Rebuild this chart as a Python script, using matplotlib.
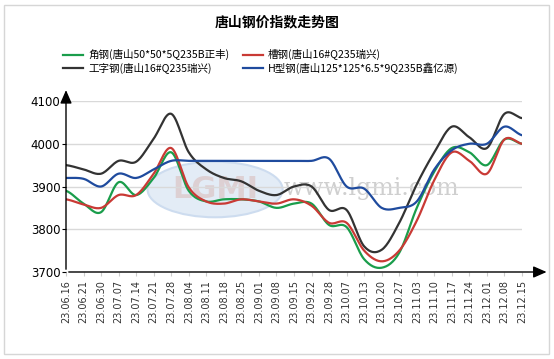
import numpy as np
import matplotlib
matplotlib.use("Agg")
import matplotlib.pyplot as plt
from matplotlib.patches import Ellipse, Rectangle

plt.rcParams['font.family'] = ['Noto Sans CJK SC', 'DejaVu Sans']

# dates on the x axis
dates = ['23.06.16', '23.06.21', '23.06.30', '23.07.07', '23.07.14', '23.07.21', '23.07.28',
         '23.08.04', '23.08.11', '23.08.18', '23.08.25', '23.09.01', '23.09.08', '23.09.15',
         '23.09.22', '23.09.28', '23.10.07', '23.10.13', '23.10.20', '23.10.27', '23.11.03',
         '23.11.10', '23.11.17', '23.11.24', '23.12.01', '23.12.08', '23.12.15']

# index values
angle_steel = [3890, 3860, 3840, 3910, 3880, 3920, 3980, 3890, 3865, 3870, 3870, 3865, 3850, 3860,
               3860, 3810, 3805, 3730, 3710, 3745, 3850, 3935, 3990, 3980, 3950, 4010, 4000]
channel_steel = [3870, 3858, 3850, 3880, 3880, 3930, 3990, 3898, 3865, 3860, 3870, 3865, 3860, 3870,
                 3855, 3815, 3815, 3750, 3725, 3750, 3820, 3915, 3980, 3960, 3930, 4010, 4000]
i_beam = [3950, 3940, 3930, 3960, 3958, 4012, 4070, 3980, 3940, 3920, 3912, 3890, 3880, 3900,
          3900, 3845, 3845, 3760, 3752, 3815, 3905, 3980, 4040, 4015, 3990, 4070, 4060]
h_beam = [3920, 3918, 3900, 3930, 3920, 3940, 3960, 3960, 3960, 3960, 3960, 3960, 3960, 3960,
          3960, 3965, 3900, 3895, 3850, 3850, 3865, 3940, 3985, 4000, 4000, 4040, 4020]

names = ['角钢(唐山50*50*5Q235B正丰)', '工字钢(唐山16#Q235瑞兴)',
         '槽钢(唐山16#Q235瑞兴)', 'H型钢(唐山125*125*6.5*9Q235B鑫亿源)']
colors = ['#1a9d4b', '#333333', '#c93a35', '#1f4b9e']


def smooth_line(y, steps=16):
    # catmull-rom curve through the points, only for drawing
    y = np.asarray(y, dtype=float)
    p = np.concatenate([[y[0]], y, [y[-1]]])
    xs, ys = [], []
    t = np.linspace(0, 1, steps, endpoint=False)
    for i in range(len(y) - 1):
        p0, p1, p2, p3 = p[i], p[i + 1], p[i + 2], p[i + 3]
        seg = 0.5 * ((2 * p1) + (-p0 + p2) * t + (2 * p0 - 5 * p1 + 4 * p2 - p3) * t ** 2
                     + (-p0 + 3 * p1 - 3 * p2 + p3) * t ** 3)
        xs.append(i + t)
        ys.append(seg)
    xs.append([len(y) - 1])
    ys.append([y[-1]])
    return np.concatenate(xs), np.concatenate(ys)


fig = plt.figure(figsize=(5.54, 3.59), dpi=100)
fig.patches.append(Rectangle((4 / 554, 5 / 359), 545 / 554, 349 / 359, transform=fig.transFigure,
                             fill=False, edgecolor='#d6d6d6', lw=1))

ax = fig.add_axes([66 / 554, 1 - 272 / 359, 456 / 554, 171 / 359])

# watermark
ax.add_patch(Ellipse((8.5, 3893), 7.7, 130, facecolor='#e3ecf6', edgecolor='#cddcef', lw=1.5, zorder=0))
ax.text(8.5, 3893, 'LGMI', ha='center', va='center', fontsize=22, fontweight='bold',
        color='#ddd0d3', family='DejaVu Sans', zorder=0)
ax.text(17.4, 3896, 'www.lgmi.com', ha='center', va='center', fontsize=17,
        color='#cfcfcf', family='DejaVu Serif', zorder=0)

series = [angle_steel, i_beam, channel_steel, h_beam]
for vals, name, c in zip(series, names, colors):
    sx, sy = smooth_line(vals)
    ax.plot(sx, sy, color=c, lw=1.6, label=name, zorder=3)

ax.set_xlim(0, len(dates) - 1)
ax.set_ylim(3700, 4100)
ax.set_yticks([3700, 3800, 3900, 4000, 4100])
ax.set_xticks(range(len(dates)))
ax.set_xticklabels(dates, rotation=90, fontsize=7, color='#333333', family='DejaVu Sans')
ax.tick_params(axis='x', length=3, color='#cccccc', pad=3)
ax.tick_params(axis='y', length=3, color='black', labelsize=8.5, pad=1)
for lab in ax.get_yticklabels():
    lab.set_family('DejaVu Sans')
ax.grid(axis='y', color='#d9d9d9', lw=1)
ax.set_axisbelow(True)
for s in ax.spines.values():
    s.set_visible(False)

# axes with arrows
ax.annotate('', xy=(1.06, 0), xycoords='axes fraction', xytext=(0, 0),
            arrowprops=dict(arrowstyle='-|>,head_length=0.8,head_width=0.35', color='black', lw=1),
            annotation_clip=False)
ax.annotate('', xy=(0, 1.08), xycoords='axes fraction', xytext=(0, 0),
            arrowprops=dict(arrowstyle='-|>,head_length=0.8,head_width=0.35', color='black', lw=1),
            annotation_clip=False)

fig.text(0.5, 1 - 22 / 359, '唐山钢价指数走势图', ha='center', va='center', fontsize=10, fontweight='bold')
fig.legend(loc='upper left', bbox_to_anchor=(58 / 554, 1 - 44 / 359), ncol=2, frameon=False,
           fontsize=7.6, handlelength=1.9, handletextpad=0.45, columnspacing=1.3,
           labelspacing=0.2, borderpad=0)

plt.savefig('out.png', dpi=100)
